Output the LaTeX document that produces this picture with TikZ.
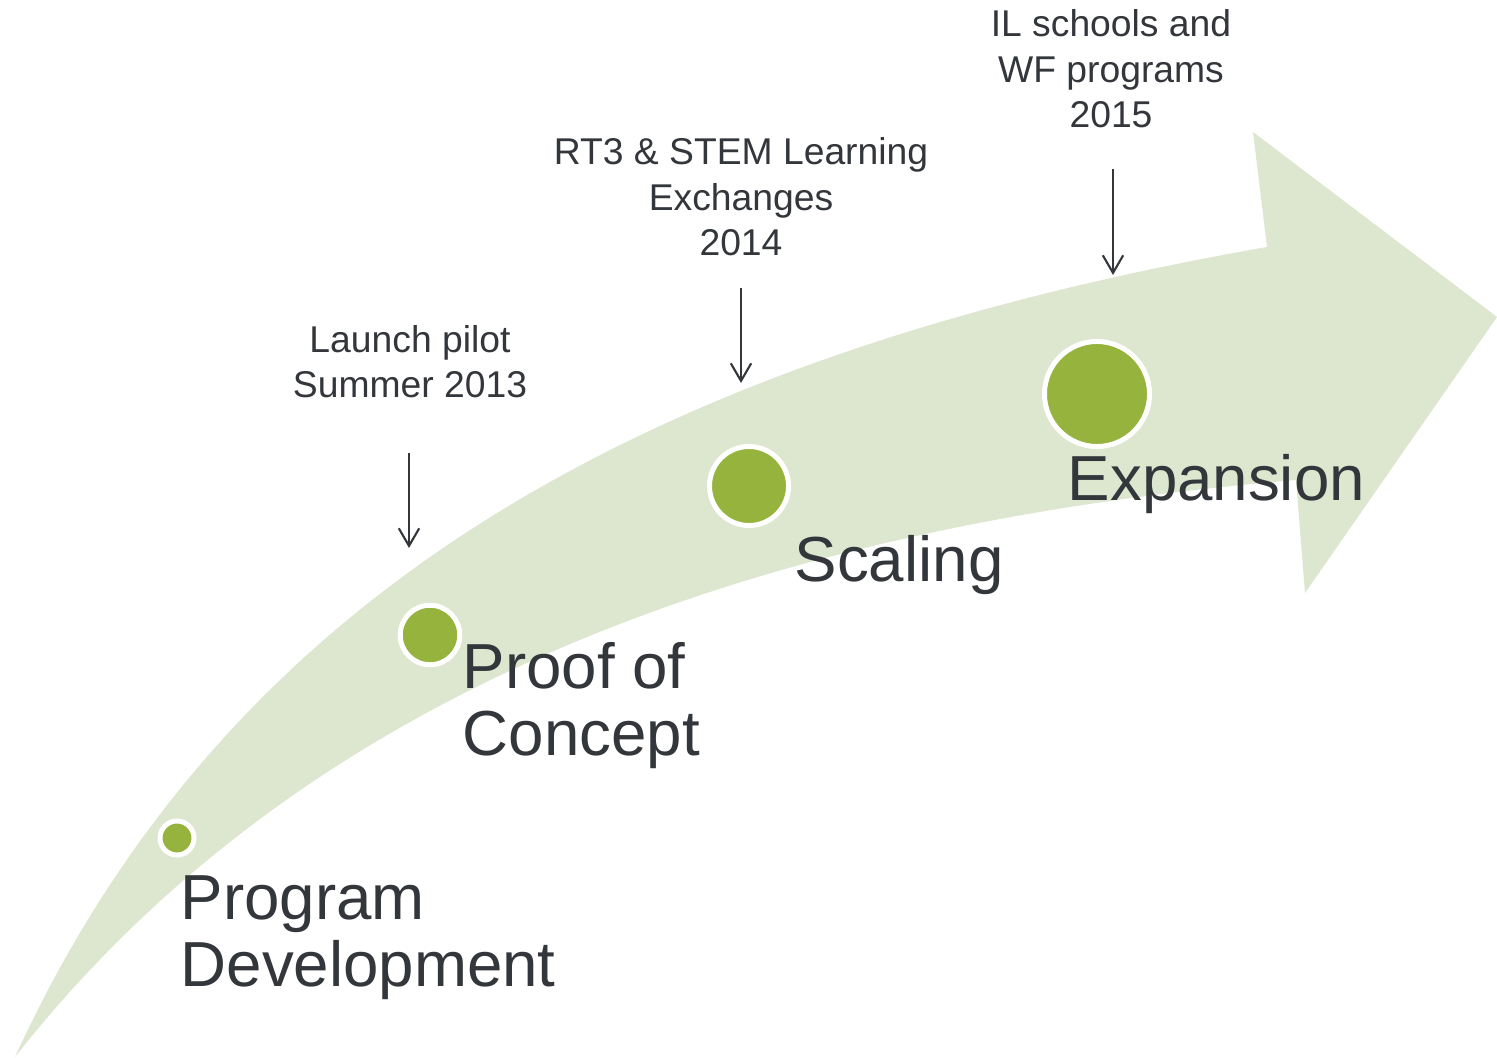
\documentclass[tikz,border=0pt]{standalone}
\usepackage{fontspec}
\setmainfont{Liberation Sans}
\usetikzlibrary{arrows.meta}
\definecolor{bandgreen}{RGB}{221,230,206}
\definecolor{dotgreen}{RGB}{149,179,61}
\definecolor{inkgrey}{RGB}{51,54,59}

\begin{document}
\begin{tikzpicture}[x=0.01cm, y=-0.01cm,
    stage/.style={font=\fontsize{18.1}{19}\selectfont, text=inkgrey, align=left, inner sep=0pt, anchor=base west},
    milestone/.style={font=\fontsize{10.6}{12.95}\selectfont, text=inkgrey, align=center, inner sep=0pt, anchor=base},
    dot/.style={circle, fill=dotgreen, draw=white, line width=0.05cm, inner sep=0pt},
    pointer/.style={draw=inkgrey, line width=0.6pt, -{Straight Barb[length=5pt, width=5.8pt]}}]
    \useasboundingbox (0,0) rectangle (1497,1058);

    % Curved band with arrow head
    \fill[bandgreen] (15,1057) .. controls (220,610) and (620,360) .. (1267,247)
        -- (1253,132) -- (1497,317) -- (1305,593) -- (1296,480)
        .. controls (700,530) and (280,720) .. cycle;

    % Stage dots (growing along the band)
    \node[dot, minimum size=0.34cm] (pd-dot) at (177,838) {};
    \node[dot, minimum size=0.595cm] (poc-dot) at (430,635) {};
    \node[dot, minimum size=0.79cm] (sc-dot) at (749,486) {};
    \node[dot, minimum size=1.05cm] (ex-dot) at (1097,394) {};

    % Stage names (base = last line)
    \node[stage] (pd) at (180,986) {Program\\Development};
    \node[stage] (poc) at (462,755) {Proof of\\Concept};
    \node[stage] (sc) at (794,581) {Scaling};
    \node[stage] (ex) at (1067,501) {Expansion};

    % Milestones above the band
    \node[milestone] (launch) at (410,398) {Launch pilot\\Summer 2013};
    \node[milestone] (rt3) at (741,256) {RT3 \& STEM Learning\\Exchanges\\2014};
    \node[milestone] (il) at (1111,128) {IL schools and\\WF programs\\2015};

    % Pointers down to the band
    \coordinate (launch-from) at (409,453);
    \coordinate (launch-to) at (409,548);
    \coordinate (rt3-from) at (741,288);
    \coordinate (rt3-to) at (741,383);
    \coordinate (il-from) at (1113,169);
    \coordinate (il-to) at (1113,275);
    \draw[pointer] (launch-from) -- (launch-to);
    \draw[pointer] (rt3-from) -- (rt3-to);
    \draw[pointer] (il-from) -- (il-to);
\end{tikzpicture}
\end{document}
